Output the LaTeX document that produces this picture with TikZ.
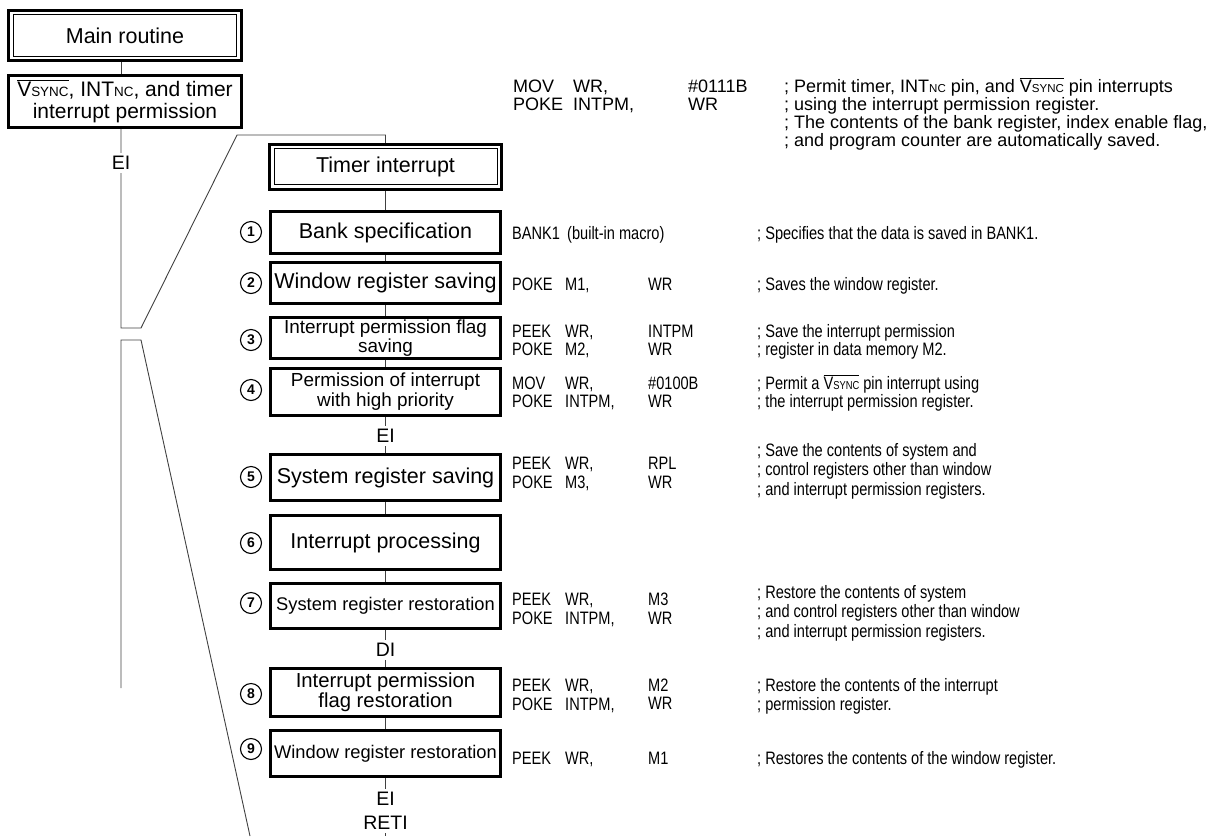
\documentclass[tikz,border=0pt]{standalone}
\usepackage{fontspec}
\setmainfont{Liberation Sans}
\newfontfamily\codefont[FakeStretch=0.81]{Liberation Sans}
\usetikzlibrary{calc}
\newcommand\smc[1]{\scalebox{0.64}{#1}}
\newcommand\vsyncbar{$\overline{\hbox{V\smc{SYNC}}}$}
\newcommand\intnc{INT\smc{NC}}
\begin{document}
\begin{tikzpicture}[x=1pt,y=-1pt,
  box/.style={draw, line width=2.6pt, inner sep=0pt, align=center},
  big/.style={font=\fontsize{21.5}{23}\selectfont},
  small/.style={font=\fontsize{18.3}{18.5}\selectfont},
  conn/.style={draw=black!75, line width=0.9pt},
  lbl/.style={fill=white, inner xsep=2pt, inner ysep=3pt, align=center, font=\fontsize{19.5}{24}\selectfont},
  num/.style={circle, draw, line width=1.1pt, minimum size=21pt, inner sep=0pt, font=\fontsize{14}{14}\selectfont\bfseries},
  topc/.style={anchor=base west, inner sep=0pt, font=\fontsize{18}{18}\selectfont},
  code/.style={anchor=base west, inner sep=0pt, font=\codefont\fontsize{18}{18}\selectfont}
]
\useasboundingbox (0,0) rectangle (1229,836);
% ---------- main routine side ----------
\node[box, big, minimum width=233.4pt, minimum height=50.4pt] (main) at (125,35.5) {Main routine};
\draw[line width=0.8pt] ($(main.north west)+(6,5.5)$) rectangle ($(main.south east)+(-7,-5.5)$);
\node[box, font=\fontsize{21}{22.5}\selectfont, minimum width=233.4pt, minimum height=52.4pt] (vs) at (125,101.5)
  {\vsyncbar, \intnc, and timer\\interrupt permission};
\coordinate (tx) at (121,0);
\coordinate (brkA) at (121,328);
\coordinate (brkAr) at (141,328);
\coordinate (slTop) at (237,135);
\coordinate (brkB) at (121,340);
\coordinate (brkBr) at (141,340);
\coordinate (trEnd) at (121,688);
\coordinate (slBot) at (250,836);
\draw[conn] (main.south -| tx) -- (vs.north -| tx);
\draw[conn] (vs.south -| tx) -- (brkA) -- (brkAr) -- (slTop) -| (385.5,143) coordinate (tTop);
\node[lbl] (eiA) at (121,163) {EI};
\draw[conn] (trEnd) -- (brkB) -- (brkBr) -- (slBot);
% ---------- timer interrupt column ----------
\node[box, big, minimum width=232.4pt, minimum height=45.4pt] (timer) at (385.5,167) {Timer interrupt};
\draw[line width=0.8pt] ($(timer.north west)+(6,5.5)$) rectangle ($(timer.south east)+(-6,-7)$);
\node[box, big,   minimum width=230.4pt, minimum height=42.4pt] (b1) at (385.5,232.5) {Bank specification};
\node[box, big,   minimum width=230.4pt, minimum height=41.4pt] (b2) at (385.5,283) {Window register saving};
\node[box, font=\fontsize{18.9}{18.5}\selectfont, minimum width=230.4pt, minimum height=41.4pt] (b3) at (385.5,338) {Interrupt permission flag\\saving};
\node[box, font=\fontsize{18.9}{20}\selectfont, minimum width=230.4pt, minimum height=47.4pt] (b4) at (385.5,392) {Permission of interrupt\\with high priority};
\node[box, big,   minimum width=230.4pt, minimum height=46.4pt] (b5) at (385.5,477.5) {System register saving};
\node[box, big,   minimum width=230.4pt, minimum height=54.4pt] (b6) at (385.5,542.5) {Interrupt processing};
\node[box, small, minimum width=230.4pt, minimum height=45.4pt] (b7) at (385.5,606) {System register restoration};
\node[box, font=\fontsize{20.3}{20}\selectfont, minimum width=230.4pt, minimum height=48.4pt] (b8) at (385.5,692.5) {Interrupt permission\\flag restoration};
\node[box, small, minimum width=230.4pt, minimum height=46.4pt] (b9) at (385.5,753.5) {Window register restoration};
\coordinate (cEnd) at (385.5,836);
\draw[conn] (timer) -- (b1);
\draw[conn] (b1) -- (b2);
\draw[conn] (b2) -- (b3);
\draw[conn] (b3) -- (b4);
\draw[conn] (b4) -- (b5);
\draw[conn] (b5) -- (b6);
\draw[conn] (b6) -- (b7);
\draw[conn] (b7) -- (b8);
\draw[conn] (b8) -- (b9);
\draw[conn] (b9) -- (cEnd);
\node[lbl] (eiB) at (385.5,436) {EI};
\node[lbl] (diB) at (385.5,650) {DI};
\node[lbl] (eiC) at (385.5,811) {EI\\RETI};
% circled numbers
\node[num] (n1) at (251,232) {1};
\node[num] (n2) at (251,283) {2};
\node[num] (n3) at (251,340) {3};
\node[num] (n4) at (251,390) {4};
\node[num] (n5) at (251,477) {5};
\node[num] (n6) at (251,543) {6};
\node[num] (n7) at (251,603) {7};
\node[num] (n8) at (251,694) {8};
\node[num] (n9) at (251,749) {9};
% ---------- top code block ----------
\node[topc] (t1a) at (513,92) {MOV};
\node[topc] (t1b) at (573,92) {WR,};
\node[topc] (t1c) at (688,92) {\#0111B};
\node[topc] (t1d) at (784,92) {; Permit timer, \intnc{} pin, and \vsyncbar{} pin interrupts};
\node[topc] (t2a) at (513,110) {POKE};
\node[topc] (t2b) at (573,110) {INTPM,};
\node[topc] (t2c) at (688,110) {WR};
\node[topc] (t2d) at (784,110) {; using the interrupt permission register.};
\node[topc] (t3d) at (784,128) {; The contents of the bank register, index enable flag,};
\node[topc] (t4d) at (784,146) {; and program counter are automatically saved.};
% ---------- lower code block ----------
\node[code] (c1a) at (512,239) {BANK1};
\node[code] (c1b) at (567,239) {(built-in macro)};
\node[code] (c1d) at (757,239) {; Specifies that the data is saved in BANK1.};
\node[code] (c2a) at (512,290) {POKE};
\node[code] (c2b) at (565,290) {M1,};
\node[code] (c2c) at (648,290) {WR};
\node[code] (c2d) at (757,290) {; Saves the window register.};
\node[code] (c3a) at (512,337) {PEEK};
\node[code] (c3b) at (565,337) {WR,};
\node[code] (c3c) at (648,337) {INTPM};
\node[code] (c3d) at (757,337) {; Save the interrupt permission};
\node[code] (c4a) at (512,355) {POKE};
\node[code] (c4b) at (565,355) {M2,};
\node[code] (c4c) at (648,355) {WR};
\node[code] (c4d) at (757,355) {; register in data memory M2.};
\node[code] (c5a) at (512,389) {MOV};
\node[code] (c5b) at (565,389) {WR,};
\node[code] (c5c) at (648,389) {\#0100B};
\node[code] (c5d) at (757,389) {; Permit a \vsyncbar{} pin interrupt using};
\node[code] (c6a) at (512,407) {POKE};
\node[code] (c6b) at (565,407) {INTPM,};
\node[code] (c6c) at (648,407) {WR};
\node[code] (c6d) at (757,407) {; the interrupt permission register.};
\node[code] (c7d) at (757,456) {; Save the contents of system and};
\node[code] (c7a) at (512,469) {PEEK};
\node[code] (c7b) at (565,469) {WR,};
\node[code] (c7c) at (648,469) {RPL};
\node[code] (c8d) at (757,475) {; control registers other than window};
\node[code] (c8a) at (512,488) {POKE};
\node[code] (c8b) at (565,488) {M3,};
\node[code] (c8c) at (648,488) {WR};
\node[code] (c9d) at (757,495) {; and interrupt permission registers.};
\node[code] (d1d) at (757,598) {; Restore the contents of system};
\node[code] (d1a) at (512,605) {PEEK};
\node[code] (d1b) at (565,605) {WR,};
\node[code] (d1c) at (648,605) {M3};
\node[code] (d2d) at (757,617) {; and control registers other than window};
\node[code] (d2a) at (512,624) {POKE};
\node[code] (d2b) at (565,624) {INTPM,};
\node[code] (d2c) at (648,624) {WR};
\node[code] (d3d) at (757,637) {; and interrupt permission registers.};
\node[code] (e1a) at (512,691) {PEEK};
\node[code] (e1b) at (565,691) {WR,};
\node[code] (e1c) at (648,691) {M2};
\node[code] (e1d) at (757,691) {; Restore the contents of the interrupt};
\node[code] (e2a) at (512,710) {POKE};
\node[code] (e2b) at (565,710) {INTPM,};
\node[code] (e2c) at (648,709) {WR};
\node[code] (e2d) at (757,710) {; permission register.};
\node[code] (f1a) at (512,764) {PEEK};
\node[code] (f1b) at (565,764) {WR,};
\node[code] (f1c) at (648,764) {M1};
\node[code] (f1d) at (757,764) {; Restores the contents of the window register.};
\end{tikzpicture}
\end{document}
